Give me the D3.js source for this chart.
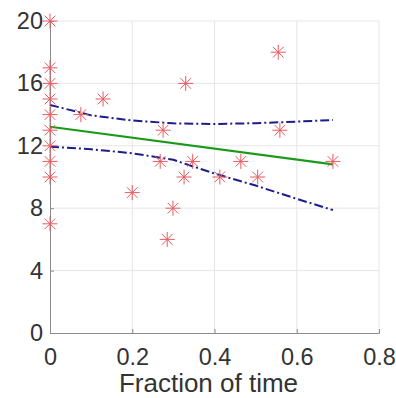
<!DOCTYPE html>
<html>
<head>
<meta charset="utf-8">
<script src="https://cdn.jsdelivr.net/npm/d3@7"></script>
<style>
  html, body { margin: 0; padding: 0; background: #ffffff; }
  svg { display: block; font-family: "Liberation Sans", Arial, Helvetica, sans-serif; }
</style>
</head>
<body>
<div id="chart"></div>
<script>
// Observed points
const pointX = [0, 0, 0, 0, 0, 0, 0, 0, 0, 0,
  0.075, 0.129, 0.2, 0.268, 0.275, 0.285, 0.299, 0.326, 0.33, 0.347,
  0.413, 0.464, 0.505, 0.555, 0.559, 0.688];
const pointY = [20, 17, 16, 15, 14, 13, 12, 11, 10, 7,
  14, 15, 9, 11, 13, 6, 8, 10, 16, 11,
  10, 11, 10, 18, 13, 11];

// Fitted line and confidence bounds
const fitX = [0, 0.688];
const fitY = [13.22, 10.81];
const bandX = [0, 0.1, 0.2, 0.3, 0.4, 0.5, 0.6, 0.688];
const upperY = [14.62, 13.95, 13.62, 13.44, 13.4, 13.45, 13.55, 13.65];
const lowerY = [11.94, 11.78, 11.52, 11.1, 10.22, 9.45, 8.6, 7.88];

// Axis ticks
const xTicks = [0, 0.2, 0.4, 0.6, 0.8];
const yTicks = [0, 4, 8, 12, 16, 20];

const W = 396, H = 398;
const margin = { top: 21, right: 17, bottom: 65, left: 50 };
const width = W - margin.left - margin.right;
const height = H - margin.top - margin.bottom;

const svg = d3.select('#chart')
  .append('svg')
  .attr('width', W)
  .attr('height', H);

const g = svg.append('g')
  .attr('transform', `translate(${margin.left},${margin.top})`);

const x = d3.scaleLinear().domain([0, 0.8]).range([0, width]);
const y = d3.scaleLinear().domain([0, 20]).range([height, 0]);

// Grid
g.append('g')
  .selectAll('line')
  .data(xTicks.slice(1))
  .enter()
  .append('line')
  .attr('x1', (d) => x(d)).attr('x2', (d) => x(d))
  .attr('y1', 0).attr('y2', height)
  .attr('stroke', '#e6e6e6')
  .attr('stroke-width', 1);

g.append('g')
  .selectAll('line')
  .data(yTicks.slice(1))
  .enter()
  .append('line')
  .attr('x1', 0).attr('x2', width)
  .attr('y1', (d) => y(d)).attr('y2', (d) => y(d))
  .attr('stroke', '#e6e6e6')
  .attr('stroke-width', 1);

// Axes
const xAxis = g.append('g')
  .attr('transform', `translate(0,${height})`)
  .call(d3.axisBottom(x).tickValues(xTicks).tickSize(-4).tickPadding(15)
    .tickFormat((d) => (d === 0 ? '0' : d3.format('.1f')(d))));

const yAxis = g.append('g')
  .call(d3.axisLeft(y).tickValues(yTicks).tickSize(-4).tickPadding(7));

[xAxis, yAxis].forEach((ax) => {
  ax.select('.domain').attr('stroke', '#8c8c8c').attr('stroke-width', 1);
  ax.selectAll('.tick line').attr('stroke', '#8c8c8c');
  ax.selectAll('text')
    .attr('font-size', '23.5px')
    .attr('fill', '#333333')
    .attr('font-family', '"Liberation Sans", Arial, sans-serif');
});

// Axis label
g.append('text')
  .attr('x', width / 2 - 6)
  .attr('y', height + 59)
  .attr('text-anchor', 'middle')
  .attr('font-size', '26px')
  .attr('fill', '#333333')
  .text('Fraction of time');

// Confidence bounds
const bandLine = d3.line()
  .x((d) => x(d[0]))
  .y((d) => y(d[1]));

[upperY, lowerY].forEach((vals) => {
  g.append('path')
    .datum(bandX.map((v, i) => [v, vals[i]]))
    .attr('fill', 'none')
    .attr('stroke', '#1c1c8a')
    .attr('stroke-width', 2)
    .attr('stroke-dasharray', '9,3,2,3')
    .attr('d', bandLine);
});

// Fit line
g.append('path')
  .datum(fitX.map((v, i) => [v, fitY[i]]))
  .attr('fill', 'none')
  .attr('stroke', '#1a9a1a')
  .attr('stroke-width', 2.2)
  .attr('d', bandLine);

// Asterisk markers
const r = 7.5;
const d45 = r * Math.SQRT1_2;
const star = `M${-r},0L${r},0M0,${-r}L0,${r}` +
  `M${-d45},${-d45}L${d45},${d45}M${-d45},${d45}L${d45},${-d45}`;

g.selectAll('.pt')
  .data(pointX.map((v, i) => [v, pointY[i]]))
  .enter()
  .append('path')
  .attr('class', 'pt')
  .attr('transform', (d) => `translate(${x(d[0])},${y(d[1])})`)
  .attr('d', star)
  .attr('fill', 'none')
  .attr('stroke', '#e85a5f')
  .attr('stroke-width', 1);
</script>
</body>
</html>
